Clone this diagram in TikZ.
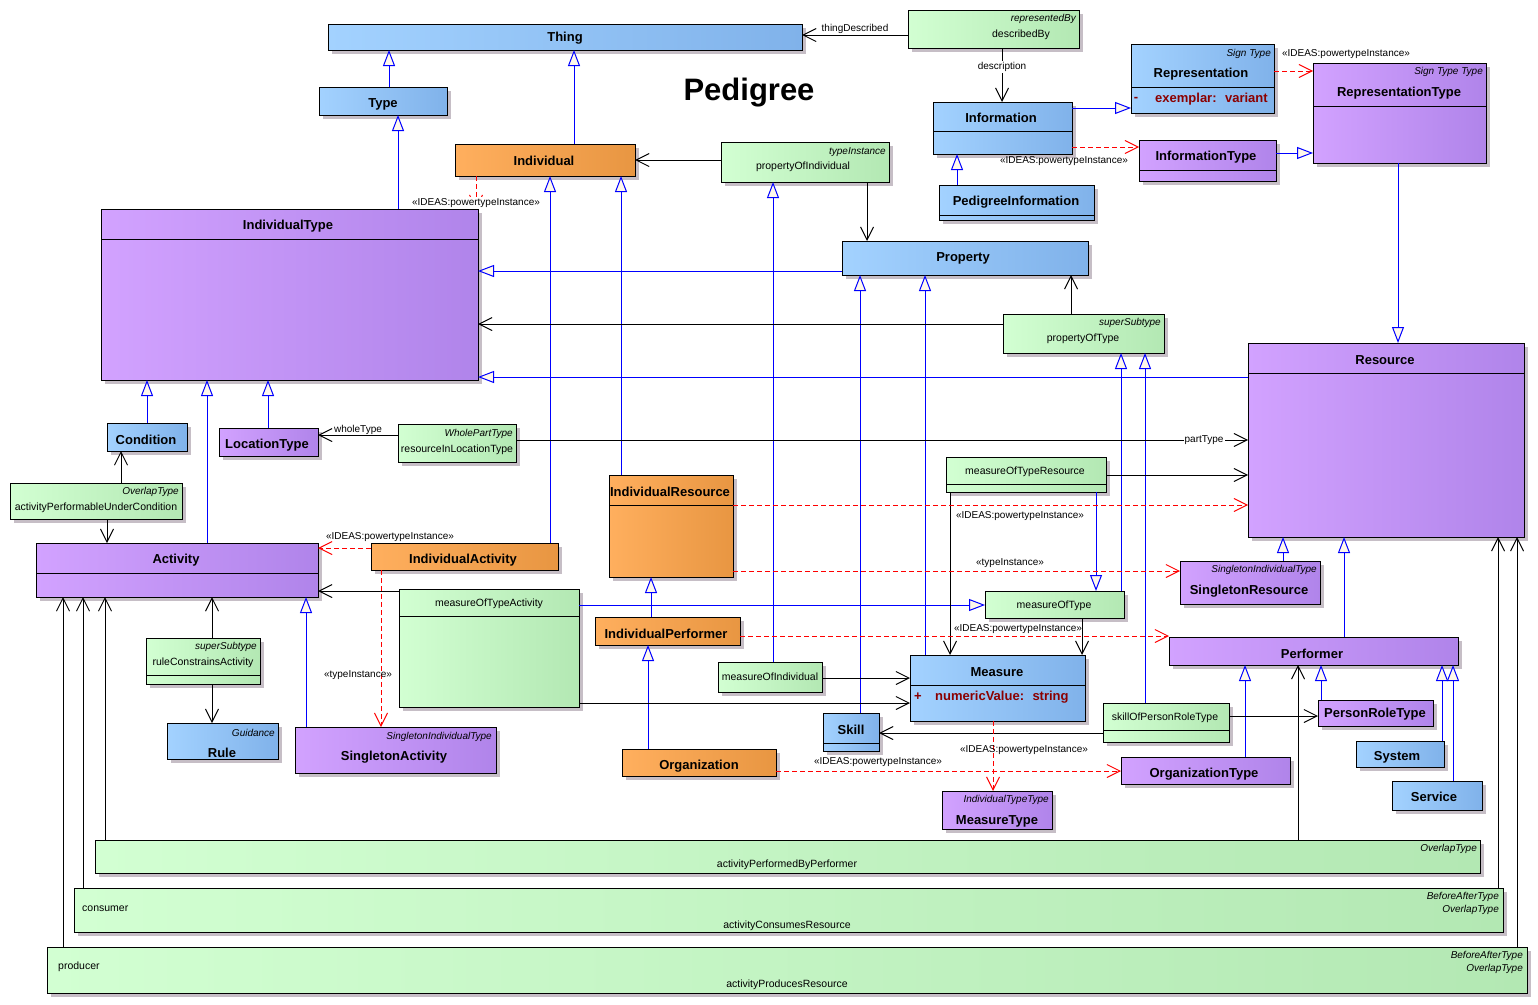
\documentclass[tikz,border=0pt]{standalone}
\usepackage{fontspec}
\setmainfont{Liberation Sans}
\usetikzlibrary{arrows.meta,shadows}

\definecolor{bluA}{HTML}{A3D2FF}
\definecolor{bluB}{HTML}{80B2EA}
\definecolor{purA}{HTML}{D2A2FF}
\definecolor{purB}{HTML}{B084EA}
\definecolor{oraA}{HTML}{FFAF5E}
\definecolor{oraB}{HTML}{E89642}
\definecolor{grnA}{HTML}{D2FFD2}
\definecolor{grnB}{HTML}{B3E8B3}
\definecolor{shade}{HTML}{C6BEC6}
\definecolor{genblue}{HTML}{0000FF}
\definecolor{depred}{HTML}{FF0000}
\definecolor{attrred}{HTML}{8B0000}
\definecolor{tipfill}{HTML}{FFF8EA}

% class box: name, style, left, top, right, bottom
\newcommand{\umlbox}[6]{\node[#2, minimum width={#5-#3}, minimum height={#6-#4}] (#1) at (#3,#4) {};}
% compartment line across a box
\newcommand{\compart}[2]{\draw[line width=1pt] (#1.west |- 0,#2) -- (#1.east |- 0,#2);}

\begin{document}
\begin{tikzpicture}[x=1pt, y=-1pt,
    box/.style={draw, line width=1pt, inner sep=0pt, outer sep=0pt, anchor=north west,
      general shadow={fill=shade, shadow xshift=4pt, shadow yshift=-4pt}},
    blu/.style={box, left color=bluA, right color=bluB},
    pur/.style={box, left color=purA, right color=purB},
    ora/.style={box, left color=oraA, right color=oraB},
    grn/.style={box, left color=grnA, right color=grnB},
    nm/.style={font=\bfseries\fontsize{13}{15}\selectfont, inner sep=0pt},
    sm/.style={font=\fontsize{10.5}{12}\selectfont, inner sep=0pt},
    st/.style={font=\itshape\fontsize{10}{12}\selectfont, inner sep=0pt, anchor=east},
    attr/.style={font=\bfseries\fontsize{13}{15}\selectfont, text=attrred, inner sep=0pt},
    lbl/.style={font=\fontsize{10}{12}\selectfont, inner sep=1pt},
    gen/.style={draw=genblue, line width=1pt, -{Triangle[width=12pt,length=16pt,fill=tipfill]}},
    assoc/.style={line width=1pt, -{Straight Barb[length=13pt,width=13pt]}},
    dep/.style={draw=depred, line width=1pt, dash pattern=on 5pt off 3pt,
      -{Straight Barb[length=13pt,width=13pt]}}]

\useasboundingbox (0,0) rectangle (1538,1004);

% boxes
\umlbox{thing}{blu}{328}{24}{802}{50}
\umlbox{type}{blu}{319}{87}{447}{115}
\umlbox{descr}{grn}{908}{10}{1079}{48}
\umlbox{repr}{blu}{1131}{44}{1274}{113}
\umlbox{reprtype}{pur}{1313}{63}{1486}{163}
\umlbox{info}{blu}{933}{102}{1072}{154}
\umlbox{infotype}{pur}{1139}{140}{1276}{181}
\umlbox{pedinfo}{blu}{939}{185}{1094}{220}
\umlbox{indiv}{ora}{455}{144}{635}{176}
\umlbox{propind}{grn}{721}{142}{889}{182}
\umlbox{indtype}{pur}{101}{209}{478}{380}
\umlbox{prop}{blu}{842}{241}{1088}{275}
\umlbox{proptype}{grn}{1003}{314}{1164}{353}
\umlbox{resource}{pur}{1248}{343}{1524}{537}
\umlbox{cond}{blu}{107}{423}{187}{451}
\umlbox{loctype}{pur}{219}{428}{318}{456}
\umlbox{resloc}{grn}{398}{424}{516}{462}
\umlbox{actcond}{grn}{10}{483}{182}{519}
\umlbox{activity}{pur}{36}{543}{318}{597}
\umlbox{indact}{ora}{371}{543}{558}{570}
\umlbox{indres}{ora}{609}{475}{733}{577}
\umlbox{motres}{grn}{946}{457}{1106}{492}
\umlbox{singres}{pur}{1180}{561}{1320}{604}
\umlbox{motact}{grn}{399}{589}{579}{707}
\umlbox{mot}{grn}{985}{591}{1124}{618}
\umlbox{indperf}{ora}{595}{617}{740}{645}
\umlbox{performer}{pur}{1169}{637}{1458}{665}
\umlbox{rulecons}{grn}{146}{638}{260}{684}
\umlbox{moi}{grn}{718}{662}{822}{692}
\umlbox{measure}{blu}{910}{655}{1085}{721}
\umlbox{skill}{blu}{823}{713}{879}{751}
\umlbox{skillprt}{grn}{1103}{703}{1229}{742}
\umlbox{prt}{pur}{1318}{700}{1433}{726}
\umlbox{rule}{blu}{167}{723}{278}{759}
\umlbox{singact}{pur}{295}{727}{496}{773}
\umlbox{org}{ora}{622}{749}{776}{776}
\umlbox{orgtype}{pur}{1121}{757}{1290}{784}
\umlbox{system}{blu}{1356}{741}{1444}{767}
\umlbox{service}{blu}{1392}{781}{1482}{810}
\umlbox{meastype}{pur}{942}{791}{1052}{829}
\umlbox{perfby}{grn}{95}{840}{1480}{873}
\umlbox{consumes}{grn}{74}{888}{1503}{932}
\umlbox{produces}{grn}{47}{947}{1527}{993}

\compart{repr}{87}
\compart{reprtype}{106}
\compart{info}{131}
\compart{infotype}{170}
\compart{pedinfo}{215}
\compart{indtype}{239}
\compart{resource}{373}
\compart{activity}{573}
\compart{indres}{505}
\compart{motres}{484}
\compart{motact}{616}
\compart{rulecons}{675}
\compart{measure}{685}
\compart{skill}{743}
\compart{skillprt}{730}

% texts
\node[font=\bfseries\fontsize{31}{34}\selectfont] (title) at (749,93) {Pedigree};
\node[nm] (thing-n) at (565,38) {Thing};
\node[nm] (type-n) at (383,104) {Type};
\node[st] (descr-s) at (1076,19) {representedBy};
\node[sm] (descr-n) at (1021,35) {describedBy};
\node[st] (repr-s) at (1271,54) {Sign Type};
\node[nm] (repr-n) at (1201,74) {Representation};
\node[attr] (repr-v) at (1136,99) {-};
\node[attr, anchor=west] (repr-a) at (1155,99) {exemplar:~ variant};
\node[st] (reprtype-s) at (1483,72) {Sign Type Type};
\node[nm] (reprtype-n) at (1399,93) {RepresentationType};
\node[nm] (info-n) at (1001,118) {Information};
\node[nm] (infotype-n) at (1206,157) {InformationType};
\node[nm] (pedinfo-n) at (1016,202) {PedigreeInformation};
\node[nm] (indiv-n) at (544,161) {Individual};
\node[st] (propind-s) at (886,152) {typeInstance};
\node[sm] (propind-n) at (803,167) {propertyOfIndividual};
\node[nm] (indtype-n) at (288,226) {IndividualType};
\node[nm] (prop-n) at (963,258) {Property};
\node[st] (proptype-s) at (1161,323) {superSubtype};
\node[sm] (proptype-n) at (1083,339) {propertyOfType};
\node[nm] (resource-n) at (1385,360) {Resource};
\node[nm] (cond-n) at (146,440) {Condition};
\node[nm] (loctype-n) at (267,445) {LocationType};
\node[st] (resloc-s) at (513,434) {WholePartType};
\node[sm] (resloc-n) at (457,450) {resourceInLocationType};
\node[st] (actcond-s) at (179,492) {OverlapType};
\node[sm] (actcond-n) at (96,508) {activityPerformableUnderCondition};
\node[nm] (activity-n) at (176,560) {Activity};
\node[nm] (indact-n) at (463,560) {IndividualActivity};
\node[nm] (indres-n) at (670,492) {IndividualResource};
\node[sm] (motres-n) at (1025,472) {measureOfTypeResource};
\node[st] (singres-s) at (1317,570) {SingletonIndividualType};
\node[nm] (singres-n) at (1249,591) {SingletonResource};
\node[sm] (motact-n) at (489,604) {measureOfTypeActivity};
\node[sm] (mot-n) at (1054,606) {measureOfType};
\node[nm] (indperf-n) at (666,634) {IndividualPerformer};
\node[nm] (performer-n) at (1312,654) {Performer};
\node[st] (rulecons-s) at (257,647) {superSubtype};
\node[sm] (rulecons-n) at (203,663) {ruleConstrainsActivity};
\node[sm] (moi-n) at (770,677) {measureOfIndividual};
\node[nm] (measure-n) at (997,672) {Measure};
\node[attr] (measure-v) at (918,697) {+};
\node[attr, anchor=west] (measure-a) at (935,697) {numericValue:~ string};
\node[nm] (skill-n) at (851,730) {Skill};
\node[sm] (skillprt-n) at (1165,718) {skillOfPersonRoleType};
\node[nm] (prt-n) at (1375,714) {PersonRoleType};
\node[st] (rule-s) at (275,733) {Guidance};
\node[nm] (rule-n) at (222,753) {Rule};
\node[st] (singact-s) at (492,737) {SingletonIndividualType};
\node[nm] (singact-n) at (394,757) {SingletonActivity};
\node[nm] (org-n) at (699,766) {Organization};
\node[nm] (orgtype-n) at (1204,774) {OrganizationType};
\node[nm] (system-n) at (1397,757) {System};
\node[nm] (service-n) at (1434,797) {Service};
\node[st] (meastype-s) at (1049,800) {IndividualTypeType};
\node[nm] (meastype-n) at (997,821) {MeasureType};
\node[st] (perfby-s) at (1477,849) {OverlapType};
\node[sm] (perfby-n) at (787,865) {activityPerformedByPerformer};
\node[st] (consumes-s) at (1499,897) {BeforeAfterType};
\node[st] (consumes-t) at (1499,910) {OverlapType};
\node[sm, anchor=west] (consumer) at (82,909) {consumer};
\node[sm] (consumes-n) at (787,926) {activityConsumesResource};
\node[st] (produces-s) at (1523,956) {BeforeAfterType};
\node[st] (produces-t) at (1523,969) {OverlapType};
\node[sm, anchor=west] (producer) at (58,967) {producer};
\node[sm] (produces-n) at (787,985) {activityProducesResource};

% generalisations
\draw[gen] (type.north -| 389,0) -- (thing.south -| 389,0);
\draw[gen] (indiv.north -| 574,0) -- (thing.south -| 574,0);
\draw[gen] (indtype.north -| 398,0) -- (type.south -| 398,0);
\draw[gen] (info.east |- 0,108) -- (repr.west |- 0,108);
\draw[gen] (infotype.east |- 0,153) -- (reprtype.west |- 0,153);
\draw[gen] (pedinfo.north -| 957,0) -- (info.south -| 957,0);
\draw[gen] (reprtype.south -| 1398,0) -- (resource.north -| 1398,0);
\draw[gen] (prop.west |- 0,271) -- (indtype.east |- 0,271);
\draw[gen] (resource.west |- 0,377) -- (indtype.east |- 0,377);
\draw[gen] (indres.north -| 621,0) -- (indiv.south -| 621,0);
\draw[gen] (indact.north -| 550,0) -- (indiv.south -| 550,0);
\draw[gen] (moi.north -| 773,0) -- (propind.south -| 773,0);
\draw[gen] (skill.north -| 860,0) -- (prop.south -| 860,0);
\draw[gen] (measure.north -| 925,0) -- (prop.south -| 925,0);
\draw[gen] (mot.north -| 1121,0) -- (proptype.south -| 1121,0);
\draw[gen] (skillprt.north -| 1145,0) -- (proptype.south -| 1145,0);
\draw[gen] (cond.north -| 147,0) -- (indtype.south -| 147,0);
\draw[gen] (activity.north -| 207,0) -- (indtype.south -| 207,0);
\draw[gen] (loctype.north -| 268,0) -- (indtype.south -| 268,0);
\draw[gen] (motact.east |- 0,605) -- (mot.west |- 0,605);
\draw[gen] (motres.south -| 1096,0) -- (mot.north -| 1096,0);
\draw[gen] (indperf.north -| 651,0) -- (indres.south -| 651,0);
\draw[gen] (org.north -| 648,0) -- (indperf.south -| 648,0);
\draw[gen] (singact.north -| 306,0) -- (activity.south -| 306,0);
\draw[gen] (singres.north -| 1283,0) -- (resource.south -| 1283,0);
\draw[gen] (performer.north -| 1344,0) -- (resource.south -| 1344,0);
\draw[gen] (orgtype.north -| 1245,0) -- (performer.south -| 1245,0);
\draw[gen] (prt.north -| 1321,0) -- (performer.south -| 1321,0);
\draw[gen] (system.north -| 1442,0) -- (performer.south -| 1442,0);
\draw[gen] (service.north -| 1453,0) -- (performer.south -| 1453,0);

% associations
\draw[assoc] (descr.west |- 0,35) -- (thing.east |- 0,35) node[lbl, pos=0.5, above=0pt] {thingDescribed};
\draw[assoc] (descr.south -| 1002,0) -- (info.north -| 1002,0) node[lbl, fill=white, pos=0.35] {description};
\draw[assoc] (propind.west |- 0,160) -- (indiv.east |- 0,160);
\draw[assoc] (propind.south -| 867,0) -- (prop.north -| 867,0);
\draw[assoc] (proptype.west |- 0,324) -- (indtype.east |- 0,324);
\draw[assoc] (proptype.north -| 1071,0) -- (prop.south -| 1071,0);
\draw[assoc] (resloc.west |- 0,435) -- (loctype.east |- 0,435) node[lbl, pos=0.5, above=-1pt] {wholeType};
\draw[assoc] (resloc.east |- 0,440) -- (resource.west |- 0,440) node[lbl, fill=white, pos=0.94] {partType};
\draw[assoc] (actcond.north -| 121,0) -- (cond.south -| 121,0);
\draw[assoc] (actcond.south -| 107,0) -- (activity.north -| 107,0);
\draw[assoc] (motact.west |- 0,591) -- (activity.east |- 0,591);
\draw[assoc] (motact.east |- 0,703) -- (measure.west |- 0,703);
\draw[assoc] (moi.east |- 0,678) -- (measure.west |- 0,678);
\draw[assoc] (motres.east |- 0,475) -- (resource.west |- 0,475);
\draw[assoc] (motres.south -| 950,0) -- (measure.north -| 950,0);
\draw[assoc] (mot.south -| 1082,0) -- (measure.north -| 1082,0);
\draw[assoc] (skillprt.west |- 0,733) -- (skill.east |- 0,733);
\draw[assoc] (skillprt.east |- 0,716) -- (prt.west |- 0,716);
\draw[assoc] (rulecons.north -| 212,0) -- (activity.south -| 212,0);
\draw[assoc] (rulecons.south -| 212,0) -- (rule.north -| 212,0);
\draw[assoc] (perfby.north -| 1298,0) -- (performer.south -| 1298,0);
\draw[assoc] (perfby.north -| 105,0) -- (activity.south -| 105,0);
\draw[assoc] (consumes.north -| 83,0) -- (activity.south -| 83,0);
\draw[assoc] (consumes.north -| 1498,0) -- (resource.south -| 1498,0);
\draw[assoc] (produces.north -| 63,0) -- (activity.south -| 63,0);
\draw[assoc] (produces.north -| 1517,0) -- (resource.south -| 1517,0);

% powertype and type instances
\draw[dep] (repr.east |- 0,71) -- (reprtype.west |- 0,71);
\draw[dep] (info.east |- 0,147) -- (infotype.west |- 0,147);
\draw[dep] (indiv.south -| 476,0) -- (indtype.north -| 476,0);
\draw[dep] (indact.west |- 0,548) -- (activity.east |- 0,548);
\draw[dep] (indact.south -| 381,0) -- (singact.north -| 381,0);
\draw[dep] (indres.east |- 0,505) -- (resource.west |- 0,505);
\draw[dep] (indres.east |- 0,571) -- (singres.west |- 0,571);
\draw[dep] (indperf.east |- 0,636) -- (performer.west |- 0,636);
\draw[dep] (measure.south -| 993,0) -- (meastype.north -| 993,0);
\draw[dep] (org.east |- 0,771) -- (orgtype.west |- 0,771);

\node[lbl] (pt-repr) at (1346,54) {«IDEAS:powertypeInstance»};
\node[lbl] (pt-info) at (1064,161) {«IDEAS:powertypeInstance»};
\node[lbl, fill=white] (pt-indiv) at (476,203) {«IDEAS:powertypeInstance»};
\node[lbl] (pt-indact) at (390,537) {«IDEAS:powertypeInstance»};
\node[lbl] (ti-indact) at (358,675) {«typeInstance»};
\node[lbl] (pt-indres) at (1020,516) {«IDEAS:powertypeInstance»};
\node[lbl] (ti-indres) at (1010,563) {«typeInstance»};
\node[lbl] (pt-indperf) at (1018,629) {«IDEAS:powertypeInstance»};
\node[lbl] (pt-measure) at (1024,750) {«IDEAS:powertypeInstance»};
\node[lbl] (pt-org) at (878,762) {«IDEAS:powertypeInstance»};
\end{tikzpicture}
\end{document}
